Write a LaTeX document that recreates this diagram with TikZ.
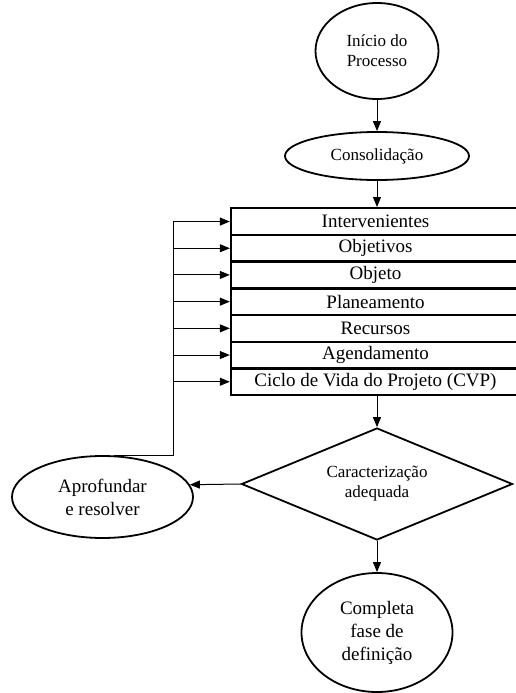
\documentclass[tikz,border=0pt]{standalone}
\usepackage{fontspec}
\setmainfont{Liberation Serif}
\usetikzlibrary{shapes.geometric,arrows.meta,calc}

\begin{document}
\begin{tikzpicture}[x=1pt,y=-1pt,
  arr/.style={line width=1pt,-{Triangle[length=10pt,width=8pt]}},
  oval/.style={ellipse,draw,line width=1.8pt,inner sep=0pt,align=center},
  smalltext/.style={font=\fontsize{17}{20}\selectfont},
  bigtext/.style={font=\fontsize{19}{23}\selectfont},
  rowbox/.style={draw,line width=2.4pt,minimum width=289pt,minimum height=26.7pt,
    inner sep=0pt,bigtext,anchor=north},
  decision/.style={diamond,draw,line width=1.8pt,inner sep=0pt,aspect=2.42,
    minimum width=271pt,minimum height=112pt,align=center,smalltext}
]
\useasboundingbox (0,0) rectangle (515,693);

% start and consolidation
\node[oval,smalltext,minimum width=123pt,minimum height=96pt] (ini) at (377,51)
  {Início do\\Processo};
\node[oval,smalltext,minimum width=184pt,minimum height=48pt] (cons) at (377,156)
  {Consolidação};

% stack of definition items
\node[rowbox] (r1) at (375.5,207.0) {Intervenientes};
\node[rowbox] (r2) at (375.5,233.7) {Objetivos};
\node[rowbox] (r3) at (375.5,260.4) {Objeto};
\node[rowbox] (r4) at (375.5,287.1) {Planeamento};
\node[rowbox] (r5) at (375.5,313.8) {Recursos};
\node[rowbox] (r6) at (375.5,340.5) {Agendamento};
\node[rowbox] (r7) at (375.5,367.2) {Ciclo de Vida do Projeto (CVP)};

% decision and outcomes
\node[decision] (dec) at (377,484) {Caracterização\\adequada};
\node[oval,bigtext,minimum width=181pt,minimum height=82pt] (apr) at (102.5,497)
  {Aprofundar\\e resolver};
\node[oval,bigtext,minimum width=151pt,minimum height=119pt] (fim) at (377,632.5)
  {Completa\\fase de\\definição};

% main flow
\draw[arr] (ini.south) -- (cons.north);
\draw[arr] (cons.south) -- (cons.south |- r1.north);
\draw[arr] (dec.north |- r7.south) -- (dec.north);
\draw[arr] (dec.west) -- (apr.8.6);
\draw[arr] (dec.south) -- (fim.north);

% feedback bus into every item
\coordinate (bus) at (173,0);
\draw[arr] (apr.75) -| (bus |- r1.west) -- (r1.west);
\foreach \r in {r2,r3,r4,r5,r6,r7}
  \draw[arr] (bus |- \r.west) -- (\r.west);
\end{tikzpicture}
\end{document}
